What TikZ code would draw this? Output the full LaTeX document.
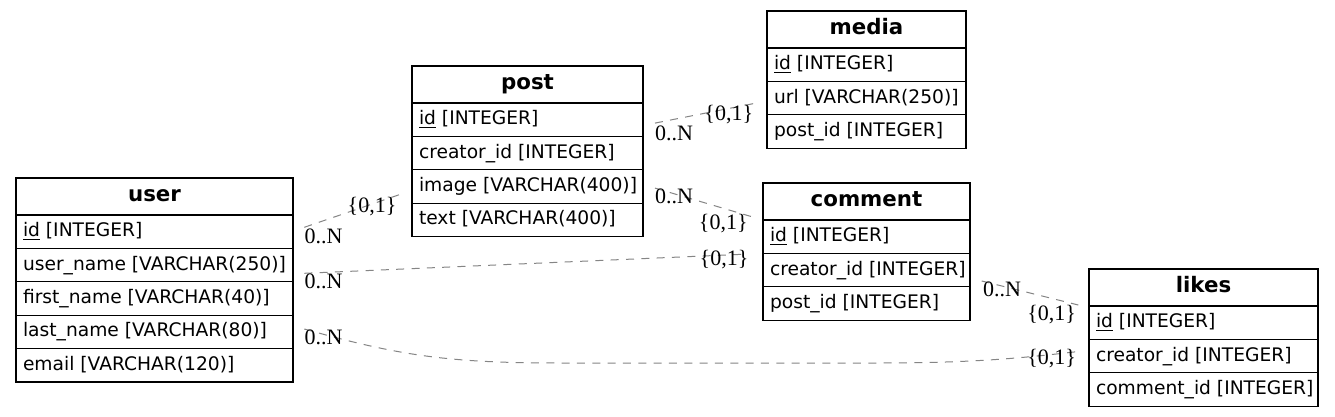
\documentclass[tikz,border=0pt]{standalone}
\usepackage{fontspec}
\setmainfont{DejaVu Sans}
\newfontfamily\lblfont{Liberation Serif}
\usetikzlibrary{calc}
\newcommand\fldtext[2]{\makebox[#1][l]{#2}}
\begin{document}
\begin{tikzpicture}[x=0.75pt,y=-0.75pt,
  hd/.style={draw=black, line width=0.9pt, anchor=north west, outer sep=0pt, inner sep=0pt,
    minimum width=#1, minimum height=27.75pt, text height=12pt, text depth=4.2pt,
    font=\fontsize{16}{19}\selectfont\bfseries, align=center},
  fld/.style={draw=black, line width=0.9pt, anchor=north west, outer sep=0pt, inner xsep=5.25pt, inner ysep=0pt,
    minimum height=25.05pt, text height=10.5pt, text depth=3pt,
    font=\fontsize{14}{17}\selectfont},
  rel/.style={draw=black!48, line width=0.75pt, dash pattern=on 6pt off 5.5pt},
  card/.style={font=\lblfont\fontsize{16.5}{19}\selectfont, inner sep=0pt}
]
\fill[white] (0,0) rectangle (1335,417);
\useasboundingbox (0,0) rectangle (1335,417);

% user
\node[hd=207.75pt] (user) at (16,178) {user};
\node[fld] (user-id) at (user.south west) {\fldtext{197.25pt}{\underline{id} [INTEGER]}};
\node[fld] (user-un) at (user-id.south west) {\fldtext{197.25pt}{user\_name [VARCHAR(250)]}};
\node[fld] (user-fn) at (user-un.south west) {\fldtext{197.25pt}{first\_name [VARCHAR(40)]}};
\node[fld] (user-ln) at (user-fn.south west) {\fldtext{197.25pt}{last\_name [VARCHAR(80)]}};
\node[fld] (user-em) at (user-ln.south west) {\fldtext{197.25pt}{email [VARCHAR(120)]}};

% post
\node[hd=173.25pt] (post) at (412,66) {post};
\node[fld] (post-id) at (post.south west) {\fldtext{162.75pt}{\underline{id} [INTEGER]}};
\node[fld] (post-cr) at (post-id.south west) {\fldtext{162.75pt}{creator\_id [INTEGER]}};
\node[fld] (post-im) at (post-cr.south west) {\fldtext{162.75pt}{image [VARCHAR(400)]}};
\node[fld] (post-tx) at (post-im.south west) {\fldtext{162.75pt}{text [VARCHAR(400)]}};

% media
\node[hd=149.25pt] (media) at (767,11) {media};
\node[fld] (media-id) at (media.south west) {\fldtext{138.75pt}{\underline{id} [INTEGER]}};
\node[fld] (media-url) at (media-id.south west) {\fldtext{138.75pt}{url [VARCHAR(250)]}};
\node[fld] (media-pid) at (media-url.south west) {\fldtext{138.75pt}{post\_id [INTEGER]}};

% comment
\node[hd=155.25pt] (comment) at (763,183) {comment};
\node[fld] (comment-id) at (comment.south west) {\fldtext{144.75pt}{\underline{id} [INTEGER]}};
\node[fld] (comment-cr) at (comment-id.south west) {\fldtext{144.75pt}{creator\_id [INTEGER]}};
\node[fld] (comment-pid) at (comment-cr.south west) {\fldtext{144.75pt}{post\_id [INTEGER]}};

% likes
\node[hd=171.75pt] (likes) at (1089,269) {likes};
\node[fld] (likes-id) at (likes.south west) {\fldtext{161.25pt}{\underline{id} [INTEGER]}};
\node[fld] (likes-cr) at (likes-id.south west) {\fldtext{161.25pt}{creator\_id [INTEGER]}};
\node[fld] (likes-cid) at (likes-cr.south west) {\fldtext{161.25pt}{comment\_id [INTEGER]}};

% connector end points
\coordinate (e1a) at ($(user-id.east)+(11.3,-4.4)$);
\coordinate (e1b) at ($(post-im.west)+(-11,7.6)$);
\coordinate (e2a) at ($(user-un.east)+(11.3,8.2)$);
\coordinate (e2b) at ($(comment-cr.west)+(-16,-16)$);
\coordinate (e3a) at ($(user-ln.east)+(11.3,-2.9)$);
\coordinate (e3b) at ($(likes-cr.west)+(-12.3,-4.4)$);
\coordinate (e4a) at ($(post-id.east)+(12,3.4)$);
\coordinate (e4b) at ($(media-url.west)+(-12,5.2)$);
\coordinate (e5a) at ($(post-im.east)+(12,1.6)$);
\coordinate (e5b) at ($(comment.west)+(-11.3,15.2)$);
\coordinate (e6a) at ($(comment-cr.east)+(11.7,10.9)$);
\coordinate (e6b) at ($(likes.west)+(-10.7,17.5)$);

% connectors
\draw[rel] (e1a) -- (e1b);
\draw[rel] (e2a) -- (e2b);
\draw[rel] (e3a) .. controls (400,356) and (450,363) .. (560,363) -- (880,363)
  .. controls (980,363) and (1030,357) .. (e3b);
\draw[rel] (e4a) -- (e4b);
\draw[rel] (e5a) -- (e5b);
\draw[rel] (e6a) -- (e6b);

% cardinality labels
\node[card] (l1a) at (323.5,236.5) {0..N};
\node[card] (l1b) at (372,206.5) {\{0,1\}};
\node[card] (l2a) at (323.5,281.5) {0..N};
\node[card] (l2b) at (724,260) {\{0,1\}};
\node[card] (l3a) at (323.5,337) {0..N};
\node[card] (l3b) at (1051.7,359) {\{0,1\}};
\node[card] (l4a) at (674,133) {0..N};
\node[card] (l4b) at (728.8,114.5) {\{0,1\}};
\node[card] (l5a) at (674,196.7) {0..N};
\node[card] (l5b) at (723.3,223.3) {\{0,1\}};
\node[card] (l6a) at (1002,289.5) {0..N};
\node[card] (l6b) at (1051.7,315) {\{0,1\}};
\end{tikzpicture}
\end{document}
